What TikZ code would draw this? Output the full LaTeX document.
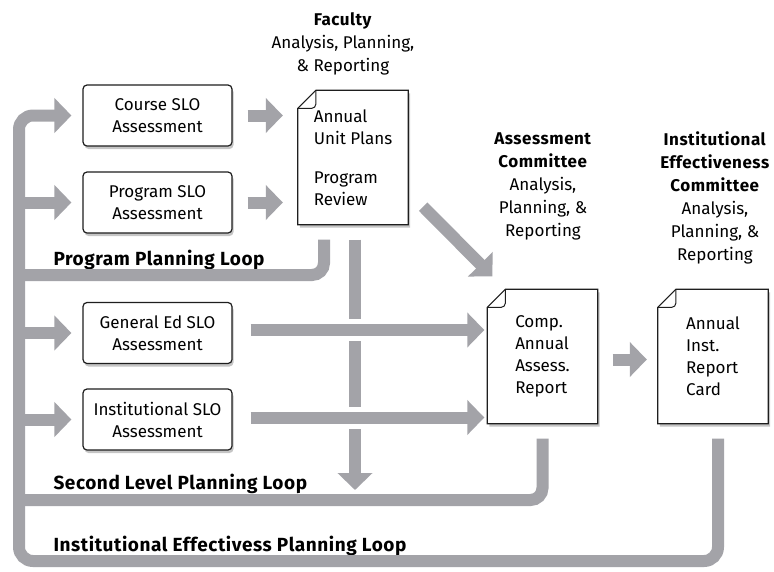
\documentclass[tikz,border=0pt]{standalone}
\usepackage{fontspec}
\setmainfont{Fira Sans}[BoldFeatures={LetterSpace=3}]
\usetikzlibrary{arrows.meta,shadows,backgrounds,calc}
\definecolor{flowgray}{RGB}{163,163,168}
\definecolor{edgegray}{RGB}{30,30,30}
\tikzset{
  slobox/.style={draw=edgegray, line width=1.2pt, rounded corners=4pt, fill=white,
    minimum width=149pt, minimum height=61pt, align=center,
    drop shadow={shadow xshift=1.5pt, shadow yshift=-3pt, opacity=.45}},
  docbox/.style={minimum width=110pt, minimum height=134pt, align=left},
  flowline/.style={draw=flowgray, line width=12pt},
  flowarrow/.style={flowline, -{Triangle[length=17pt,width=34pt]}},
  casing/.style={preaction={draw=white, line width=22pt, arrows=-}},
  looplabel/.style={anchor=base west, font=\fontsize{19}{22}\selectfont\bfseries},
  headtext/.style={align=center, font=\fontsize{17}{23}\selectfont}
}
\newcommand{\docframe}[1]{%
  \draw[draw=edgegray, line width=1.2pt, fill=white,
        drop shadow={shadow xshift=2pt, shadow yshift=-3pt, opacity=.45}]
    ($(#1.north west)+(18,0)$) -- (#1.north east) -- (#1.south east)
    -- (#1.south west) -- ($(#1.north west)+(0,18)$) -- cycle;
  \draw[draw=edgegray, line width=1pt, rounded corners=4pt]
    ($(#1.north west)+(18,0)$) |- ($(#1.north west)+(0,18)$);
}
\begin{document}
\begin{tikzpicture}[x=1pt,y=-1pt,font=\fontsize{17}{22}\selectfont]
\useasboundingbox (0,0) rectangle (774,571);

\node[slobox] (course) at (157.5,115.5) {Course SLO\\Assessment};
\node[slobox] (program) at (157.5,202.5) {Program SLO\\Assessment};
\node[slobox] (gened) at (157.5,333) {General Ed SLO\\Assessment};
\node[slobox] (inst) at (157.5,419.5) {Institutional SLO\\Assessment};

\node[docbox] (plans) at (353,157.5) {Annual\\Unit Plans\\[17pt]Program\\Review};
\node[docbox] (comp) at (542.5,356.5) {Comp.\\Annual\\Assess.\\Report};
\node[docbox] (card) at (713,356.5) {Annual\\Inst.\\Report\\Card};

\begin{pgfonlayer}{background}
\fill[white] (0,0) rectangle (774,571);
\docframe{plans}
\docframe{comp}
\docframe{card}
\end{pgfonlayer}

\node[headtext] (faculty) at (343,44) {\textbf{Faculty}\\Analysis, Planning,\\\& Reporting};
\node[headtext] (assess) at (543,186) {\textbf{Assessment}\\\textbf{Committee}\\Analysis,\\Planning, \&\\Reporting};
\node[headtext] (iec) at (715,198) {\textbf{Institutional}\\\textbf{Effectiveness}\\\textbf{Committee}\\Analysis,\\Planning, \&\\Reporting};

\node[looplabel] (progloop) at (50,265) {Program Planning Loop};
\node[looplabel] (secloop) at (50,489) {Second Level Planning Loop};
\node[looplabel] (ieloop) at (50,551) {Institutional Effectivess Planning Loop};

\coordinate (spine) at (19,561);
\coordinate (progjoin) at (19,275);
\coordinate (secjoin) at (19,500);
\coordinate (drop) at (355,490);

\draw[flowarrow, shorten <=15pt, shorten >=15pt] (course.east) -- (course.east -| plans.west);
\draw[flowarrow, shorten <=15pt, shorten >=15pt] (program.east) -- (program.east -| plans.west);
\draw[flowarrow] ($(plans.south east)+(15,-18)$) -- ($(comp.north west)+(5,-13)$);
\draw[flowarrow] ($(plans.south)+(2,15)$) -- (drop);
\draw[flowarrow, casing, shorten <=18pt, shorten >=3pt] ($(gened.east)+(0,-3)$) -- ($(gened.east -| comp.west)+(0,-3)$);
\draw[flowarrow, casing, shorten <=18pt, shorten >=3pt] ($(inst.east)+(0,-2)$) -- ($(inst.east -| comp.west)+(0,-2)$);
\draw[flowarrow, shorten <=15pt, shorten >=11pt] ($(comp.east)+(0,3)$) -- ($(card.west)+(0,3)$);

\draw[flowline, rounded corners=12pt] ($(plans.south)+(-29,15)$) |- (progjoin);
\draw[flowline, rounded corners=12pt] ($(comp.south)+(0,15)$) |- (secjoin);
\draw[flowarrow, rounded corners=14pt, shorten >=11pt] ($(card.south)+(5,15)$) |- (spine) |- (course.west);
\draw[flowarrow, shorten >=11pt] (spine |- program.west) -- (program.west);
\draw[flowarrow, shorten >=11pt] (spine |- gened.west) -- (gened.west);
\draw[flowarrow, shorten >=11pt] (spine |- inst.west) -- (inst.west);
\end{tikzpicture}
\end{document}
